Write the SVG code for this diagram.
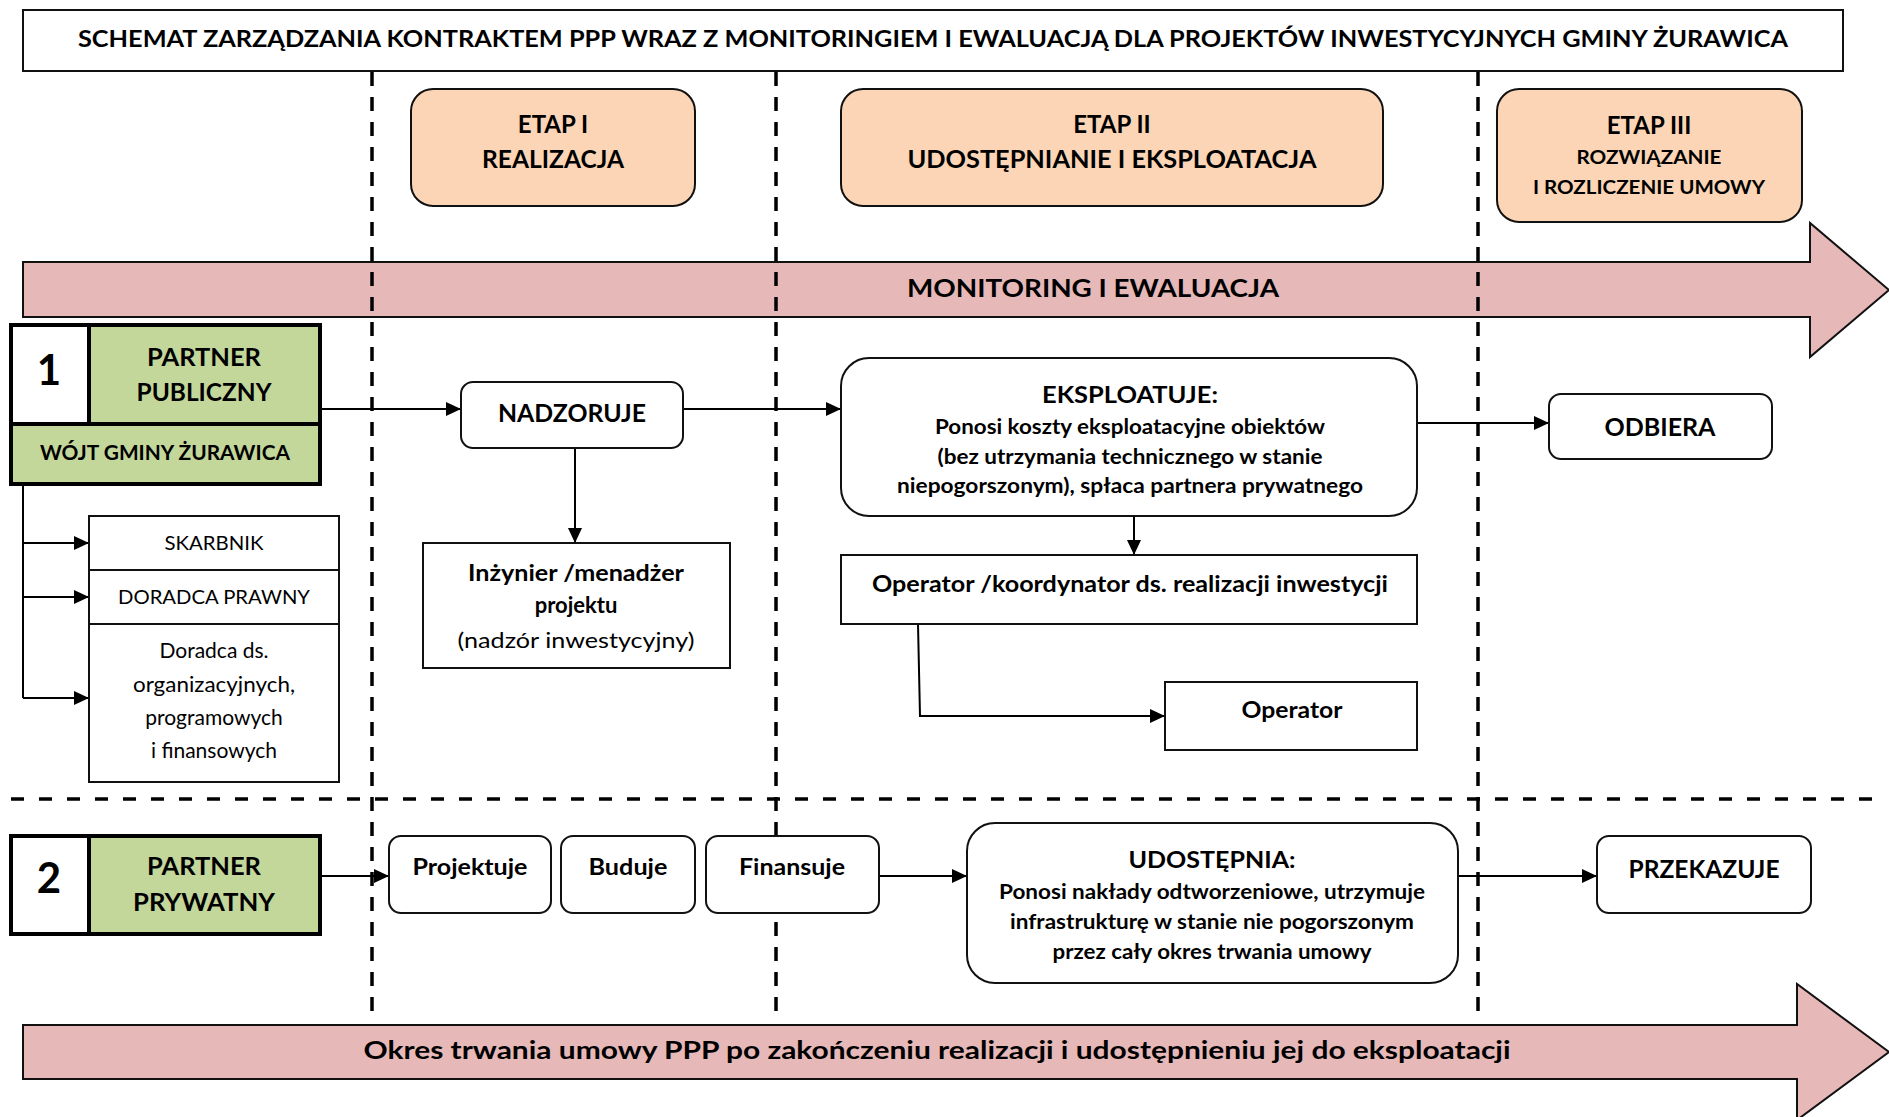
<svg xmlns="http://www.w3.org/2000/svg" width="1889" height="1117" viewBox="0 0 1889 1117">
<defs>
<marker id="ah" viewBox="0 0 15 14" refX="15" refY="7" markerWidth="15" markerHeight="14" markerUnits="userSpaceOnUse" orient="auto"><path d="M0,0 L15,7 L0,14 Z" fill="#000"/></marker>
<style>
text{font-family:Lato,"Open Sans","Liberation Sans",sans-serif;fill:#000;text-anchor:middle}
.b{font-weight:bold}
.r{font-weight:normal}
.box{fill:#fff;stroke:#111;stroke-width:2}
.etap{fill:#FBD5B5;stroke:#111;stroke-width:2}
.green{fill:#C4D79B;stroke:#000;stroke-width:4}
.white4{fill:#fff;stroke:#000;stroke-width:4}
.band{fill:#E6B8B7;stroke:#111;stroke-width:2}
.vd{stroke:#000;stroke-width:3.5;stroke-dasharray:14 11;fill:none}
.hd{stroke:#000;stroke-width:3.5;stroke-dasharray:13 15;fill:none}
.con path{stroke:#000;stroke-width:2;fill:none}
.arr{marker-end:url(#ah)}
</style>
</defs>
<rect width="1889" height="1117" fill="#fff"/>

<g id="title">
<rect x="23" y="10" width="1820" height="61" class="box"/>
<text class="b" x="933" y="47" font-size="23" textLength="1710" lengthAdjust="spacingAndGlyphs">SCHEMAT ZARZĄDZANIA KONTRAKTEM PPP WRAZ Z MONITORINGIEM I EWALUACJĄ DLA PROJEKTÓW INWESTYCYJNYCH GMINY ŻURAWICA</text>
</g>

<g id="monitoring">
<path class="band" d="M23 262 H1810 V223 L1889 290 L1810 357 V317 H23 Z"/>
<text class="b" x="1093" y="297" font-size="25" textLength="372" lengthAdjust="spacingAndGlyphs">MONITORING I EWALUACJA</text>
</g>

<g id="okres">
<path class="band" d="M23 1025 H1797 V984 L1889 1052 L1797 1120 V1079 H23 Z"/>
<text class="b" x="937" y="1059" font-size="25" textLength="1147" lengthAdjust="spacingAndGlyphs">Okres trwania umowy PPP po zakończeniu realizacji i udostępnieniu jej do eksploatacji</text>
</g>

<g id="separators">
<path class="vd" d="M372 72 V1012"/>
<path class="vd" d="M776 72 V1012"/>
<path class="vd" d="M1478 72 V1012"/>
<path class="hd" d="M11 799 H1873"/>
</g>

<g id="connectors" class="con">
<path class="arr" d="M320 409 H461"/>
<path class="arr" d="M683 409 H841"/>
<path class="arr" d="M575 448 V543"/>
<path d="M23 484 V698"/>
<path class="arr" d="M23 543 H89"/>
<path class="arr" d="M23 597 H89"/>
<path class="arr" d="M23 698 H89"/>
<path class="arr" d="M1417 423 H1549"/>
<path class="arr" d="M1134 516 V555"/>
<path class="arr" d="M918 624 L920 716 H1165"/>
<path class="arr" d="M320 876 H389"/>
<path class="arr" d="M879 876 H967"/>
<path class="arr" d="M1458 876 H1597"/>
</g>

<g id="etap1">
<rect x="411" y="89" width="284" height="117" rx="22" class="etap"/>
<text class="b" x="553" y="133" font-size="24">ETAP I</text>
<text class="b" x="553" y="168" font-size="24" textLength="142" lengthAdjust="spacingAndGlyphs">REALIZACJA</text>
</g>

<g id="etap2">
<rect x="841" y="89" width="542" height="117" rx="22" class="etap"/>
<text class="b" x="1112" y="133" font-size="24">ETAP II</text>
<text class="b" x="1112" y="168" font-size="24" textLength="409" lengthAdjust="spacingAndGlyphs">UDOSTĘPNIANIE I EKSPLOATACJA</text>
</g>

<g id="etap3">
<rect x="1497" y="89" width="305" height="133" rx="22" class="etap"/>
<text class="b" x="1649" y="134" font-size="24">ETAP III</text>
<text class="b" x="1649" y="164" font-size="19" textLength="145" lengthAdjust="spacingAndGlyphs">ROZWIĄZANIE</text>
<text class="b" x="1649" y="194" font-size="19" textLength="232" lengthAdjust="spacingAndGlyphs">I ROZLICZENIE UMOWY</text>
</g>

<g id="partner-publiczny">
<rect x="11" y="325" width="78" height="99" class="white4"/>
<rect x="89" y="325" width="231" height="99" class="green"/>
<rect x="11" y="424" width="309" height="60" class="green"/>
<text class="b" x="49" y="385" font-size="42">1</text>
<text class="b" x="204" y="366" font-size="24" textLength="114" lengthAdjust="spacingAndGlyphs">PARTNER</text>
<text class="b" x="204" y="401" font-size="24" textLength="135" lengthAdjust="spacingAndGlyphs">PUBLICZNY</text>
<text class="b" x="165" y="460" font-size="21" textLength="250" lengthAdjust="spacingAndGlyphs">WÓJT GMINY ŻURAWICA</text>
</g>

<g id="skarbnik">
<rect x="89" y="516" width="250" height="54" class="box"/>
<text class="r" x="214" y="550" font-size="20" textLength="99" lengthAdjust="spacingAndGlyphs">SKARBNIK</text>
</g>
<g id="doradca-prawny">
<rect x="89" y="570" width="250" height="54" class="box"/>
<text class="r" x="214" y="604" font-size="20" textLength="192" lengthAdjust="spacingAndGlyphs">DORADCA PRAWNY</text>
</g>
<g id="doradca-ds">
<rect x="89" y="624" width="250" height="158" class="box"/>
<text class="r" x="214" y="658" font-size="21">Doradca ds.</text>
<text class="r" x="214" y="692" font-size="21" textLength="162" lengthAdjust="spacingAndGlyphs">organizacyjnych,</text>
<text class="r" x="214" y="725" font-size="21">programowych</text>
<text class="r" x="214" y="758" font-size="21">i finansowych</text>
</g>

<g id="nadzoruje">
<rect x="461" y="382" width="222" height="66" rx="12" class="box"/>
<text class="b" x="572" y="422" font-size="25" textLength="148" lengthAdjust="spacingAndGlyphs">NADZORUJE</text>
</g>

<g id="inzynier">
<rect x="423" y="543" width="307" height="125" class="box"/>
<text class="b" x="576" y="581" font-size="22" textLength="216" lengthAdjust="spacingAndGlyphs">Inżynier /menadżer</text>
<text class="b" x="576" y="613" font-size="22">projektu</text>
<text class="r" x="576" y="648" font-size="22" textLength="237" lengthAdjust="spacingAndGlyphs">(nadzór inwestycyjny)</text>
</g>

<g id="eksploatuje">
<rect x="841" y="358" width="576" height="158" rx="28" class="box"/>
<text class="b" x="1130" y="403" font-size="23" textLength="176" lengthAdjust="spacingAndGlyphs">EKSPLOATUJE:</text>
<text class="b" x="1130" y="434" font-size="20" textLength="390" lengthAdjust="spacingAndGlyphs">Ponosi koszty eksploatacyjne obiektów</text>
<text class="b" x="1130" y="464" font-size="20" textLength="385" lengthAdjust="spacingAndGlyphs">(bez utrzymania technicznego w stanie</text>
<text class="b" x="1130" y="493" font-size="20" textLength="466" lengthAdjust="spacingAndGlyphs">niepogorszonym), spłaca partnera prywatnego</text>
</g>

<g id="odbiera">
<rect x="1549" y="394" width="223" height="65" rx="12" class="box"/>
<text class="b" x="1660" y="436" font-size="24" textLength="111" lengthAdjust="spacingAndGlyphs">ODBIERA</text>
</g>

<g id="operator-koordynator">
<rect x="841" y="555" width="576" height="69" class="box"/>
<text class="b" x="1130" y="592" font-size="22" textLength="516" lengthAdjust="spacingAndGlyphs">Operator /koordynator ds. realizacji inwestycji</text>
</g>

<g id="operator">
<rect x="1165" y="682" width="252" height="68" class="box"/>
<text class="b" x="1292" y="718" font-size="22" textLength="101" lengthAdjust="spacingAndGlyphs">Operator</text>
</g>

<g id="partner-prywatny">
<rect x="11" y="836" width="78" height="98" class="white4"/>
<rect x="89" y="836" width="231" height="98" class="green"/>
<text class="b" x="49" y="893" font-size="42">2</text>
<text class="b" x="204" y="875" font-size="24" textLength="114" lengthAdjust="spacingAndGlyphs">PARTNER</text>
<text class="b" x="204" y="911" font-size="24" textLength="142" lengthAdjust="spacingAndGlyphs">PRYWATNY</text>
</g>

<g id="projektuje">
<rect x="389" y="836" width="162" height="77" rx="12" class="box"/>
<text class="b" x="470" y="875" font-size="22" textLength="115" lengthAdjust="spacingAndGlyphs">Projektuje</text>
</g>
<g id="buduje">
<rect x="561" y="836" width="134" height="77" rx="12" class="box"/>
<text class="b" x="628" y="875" font-size="22" textLength="79" lengthAdjust="spacingAndGlyphs">Buduje</text>
</g>
<g id="finansuje">
<rect x="706" y="836" width="173" height="77" rx="12" class="box"/>
<text class="b" x="792" y="875" font-size="22" textLength="106" lengthAdjust="spacingAndGlyphs">Finansuje</text>
</g>

<g id="udostepnia">
<rect x="967" y="823" width="491" height="160" rx="28" class="box"/>
<text class="b" x="1212" y="868" font-size="23" textLength="167" lengthAdjust="spacingAndGlyphs">UDOSTĘPNIA:</text>
<text class="b" x="1212" y="899" font-size="20" textLength="426" lengthAdjust="spacingAndGlyphs">Ponosi nakłady odtworzeniowe, utrzymuje</text>
<text class="b" x="1212" y="929" font-size="20" textLength="404" lengthAdjust="spacingAndGlyphs">infrastrukturę w stanie nie pogorszonym</text>
<text class="b" x="1212" y="959" font-size="20" textLength="319" lengthAdjust="spacingAndGlyphs">przez cały okres trwania umowy</text>
</g>

<g id="przekazuje">
<rect x="1597" y="836" width="214" height="77" rx="12" class="box"/>
<text class="b" x="1704" y="878" font-size="24" textLength="151" lengthAdjust="spacingAndGlyphs">PRZEKAZUJE</text>
</g>
</svg>
